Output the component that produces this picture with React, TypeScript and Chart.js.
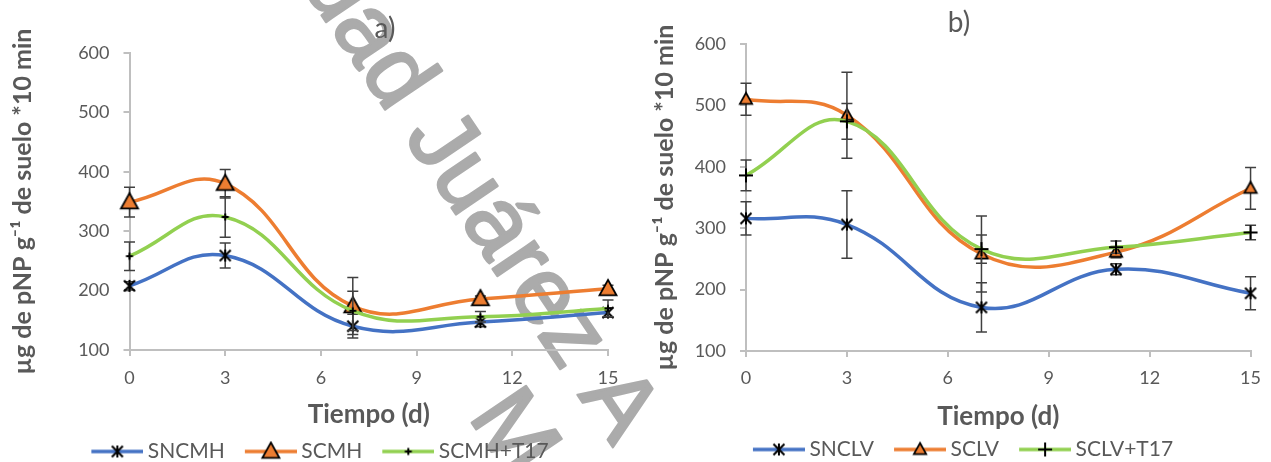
import React, { useEffect, useRef } from 'react';
import { Chart, registerables } from 'chart.js';

Chart.register(...registerables);

// ---------- data ----------
const days = [0, 3, 7, 11, 15];
const xTickValues = [0, 3, 6, 9, 12, 15];
const yTickValues = [100, 200, 300, 400, 500, 600];

const namesA = ['SNCMH', 'SCMH', 'SCMH+T17'];
const sncmh = [208, 259, 140, 147, 163];
const sncmhErr = [7, 21, 20, 8, 8];
const scmh = [349, 380, 174, 186, 203];
const scmhErr = [25, 24, 48, 5, 6];
const scmhT17 = [258, 324, 166, 156, 170];
const scmhT17Err = [24, 34, 33, 9, 14];

const namesB = ['SNCLV', 'SCLV', 'SCLV+T17'];
const snclv = [316, 306, 171, 233, 194];
const snclvErr = [27, 55, 40, 9, 27];
const sclv = [510, 484, 258, 261, 365];
const sclvErr = [26, 70, 62, 9, 34];
const sclvT17 = [386, 474, 266, 269, 293];
const sclvT17Err = [25, 29, 23, 10, 12];

const yTitle = 'µg de pNP g⁻¹ de suelo *10 min';
const xTitle = 'Tiempo (d)';
const titleA = 'a)';
const titleB = 'b)';
const watermarkLine1 = 'Universidad Juárez A';
const watermarkLine2 = 'México';

// ---------- styles ----------
const BLUE = '#4472C4';
const ORANGE = '#ED7D31';
const GREEN = '#92D050';
const TEXT = '#595959';
const AXIS = '#BFBFBF';
const FONT = 'Lato, "Open Sans", sans-serif';

type Kind = 'star' | 'triangle' | 'plus';

function drawMarker(ctx: CanvasRenderingContext2D, kind: Kind, r: number, cx: number, cy: number) {
  ctx.save();
  ctx.translate(cx, cy);
  ctx.strokeStyle = '#000';
  if (kind === 'star') {
    ctx.lineWidth = 2;
    ctx.beginPath();
    ctx.moveTo(-r, -r); ctx.lineTo(r, r);
    ctx.moveTo(r, -r); ctx.lineTo(-r, r);
    ctx.moveTo(0, -r * 1.1); ctx.lineTo(0, r * 1.1);
    ctx.stroke();
  } else if (kind === 'triangle') {
    ctx.fillStyle = ORANGE;
    ctx.lineWidth = 1.75;
    ctx.lineJoin = 'miter';
    ctx.beginPath();
    ctx.moveTo(0, -r);
    ctx.lineTo(r * 0.95, r * 0.72);
    ctx.lineTo(-r * 0.95, r * 0.72);
    ctx.closePath();
    ctx.fill();
    ctx.stroke();
  } else {
    ctx.lineWidth = 2;
    ctx.beginPath();
    ctx.moveTo(-r, 0); ctx.lineTo(r, 0);
    ctx.moveTo(0, -r); ctx.lineTo(0, r);
    ctx.stroke();
  }
  ctx.restore();
}

function markerCanvas(kind: Kind, r: number) {
  const s = 2 * Math.ceil(r + 3);
  const c = document.createElement('canvas');
  c.width = s; c.height = s;
  drawMarker(c.getContext('2d')!, kind, r, s / 2, s / 2);
  return c;
}

const LEG_BOX = 66;
const LEG_IMG = 78;
const LEG_LINE = 52;

function legendCanvas(kind: Kind, r: number, color: string) {
  const h = 2 * Math.ceil(r + 3);
  const c = document.createElement('canvas');
  c.width = LEG_IMG; c.height = h;
  const ctx = c.getContext('2d')!;
  ctx.strokeStyle = color;
  ctx.lineWidth = 3.5;
  ctx.beginPath();
  ctx.moveTo(LEG_IMG - LEG_LINE, h / 2);
  ctx.lineTo(LEG_IMG, h / 2);
  ctx.stroke();
  drawMarker(ctx, kind, r, LEG_IMG - LEG_LINE / 2, h / 2);
  return c;
}

const errorBarPlugin = {
  id: 'errorBars',
  beforeDatasetDraw(chart: any, args: any) {
    const ds = chart.data.datasets[args.index];
    const errs: number[] | undefined = ds.errors;
    if (!errs) return;
    const ys = chart.scales.y;
    const ctx = chart.ctx as CanvasRenderingContext2D;
    ctx.save();
    ctx.strokeStyle = '#404040';
    ctx.lineWidth = 1.5;
    args.meta.data.forEach((pt: any, i: number) => {
      const v = ds.data[i].y;
      const e = errs[i];
      const x = pt.x;
      const t = ys.getPixelForValue(v + e);
      const b = ys.getPixelForValue(v - e);
      const cap = 5.5;
      ctx.beginPath();
      ctx.moveTo(x, t); ctx.lineTo(x, b);
      ctx.moveTo(x - cap, t); ctx.lineTo(x + cap, t);
      ctx.moveTo(x - cap, b); ctx.lineTo(x + cap, b);
      ctx.stroke();
    });
    ctx.restore();
  },
};

const panelTitlePlugin = {
  id: 'panelTitle',
  afterDraw(chart: any, _args: any, opts: any) {
    if (!opts || !opts.text) return;
    const ctx = chart.ctx as CanvasRenderingContext2D;
    ctx.save();
    ctx.font = `28px ${FONT}`;
    ctx.fillStyle = TEXT;
    ctx.textAlign = 'center';
    ctx.textBaseline = 'middle';
    ctx.fillText(opts.text, opts.x, opts.y);
    ctx.restore();
  },
};

interface PanelSpec {
  names: string[];
  values: number[][];
  errors: number[][];
  kinds: Kind[];
  radii: number[];
  title: string;
  titleX: number;
  titleY: number;
  left: number;
  width: number;
  height: number;
  padTop: number;
  padRight: number;
  yWidth: number;
  rightWidth: number;
  xHeight: number;
  yTitlePad: number;
  xTitlePadBottom: number;
  xTickPad: number;
}

const colors = [BLUE, ORANGE, GREEN];

const panelA: PanelSpec = {
  names: namesA,
  values: [sncmh, scmh, scmhT17],
  errors: [sncmhErr, scmhErr, scmhT17Err],
  kinds: ['star', 'triangle', 'plus'],
  radii: [5.5, 9, 3.5],
  title: titleA,
  titleX: 385,
  titleY: 29,
  left: 0,
  width: 640,
  height: 472,
  padTop: 53,
  padRight: 20,
  yWidth: 129.5,
  rightWidth: 12,
  xHeight: 91,
  yTitlePad: 8,
  xTitlePadBottom: 11,
  xTickPad: 11,
};

const panelB: PanelSpec = {
  names: namesB,
  values: [snclv, sclv, sclvT17],
  errors: [snclvErr, sclvErr, sclvT17Err],
  kinds: ['star', 'triangle', 'plus'],
  radii: [5.5, 6.5, 7],
  title: titleB,
  titleX: 319,
  titleY: 23,
  left: 640,
  width: 631,
  height: 470,
  padTop: 44,
  padRight: 5,
  yWidth: 106,
  rightWidth: 14,
  xHeight: 88,
  yTitlePad: 10,
  xTitlePadBottom: 7,
  xTickPad: 10,
};

function buildConfig(spec: PanelSpec): any {
  const legendImgs = spec.kinds.map((k, i) => legendCanvas(k, spec.radii[i], colors[i]));
  const datasets = spec.names.map((name, i) => ({
    label: name,
    data: days.map((d, j) => ({ x: d, y: spec.values[i][j] })),
    errors: spec.errors[i],
    borderColor: colors[i],
    backgroundColor: colors[i],
    borderWidth: 3.5,
    tension: 0.42,
    pointStyle: markerCanvas(spec.kinds[i], spec.radii[i]),
    pointRadius: 5,
    pointHoverRadius: 5,
    clip: false,
    order: 2 - i,
  }));
  const tickFont = { family: FONT, size: 18 };
  return {
    type: 'line',
    data: { datasets },
    plugins: [errorBarPlugin, panelTitlePlugin],
    options: {
      responsive: false,
      animation: false,
      devicePixelRatio: 1,
      layout: { padding: { left: 0, right: spec.padRight, top: spec.padTop, bottom: 0 } },
      plugins: {
        tooltip: { enabled: false },
        title: { display: false },
        panelTitle: { text: spec.title, x: spec.titleX, y: spec.titleY },
        legend: {
          display: true,
          position: 'bottom',
          align: 'center',
          labels: {
            usePointStyle: true,
            pointStyleWidth: LEG_BOX,
            padding: 0,
            color: TEXT,
            font: { family: FONT, size: 21 },
            generateLabels: (chart: any) =>
              chart.data.datasets.map((ds: any, i: number) => ({
                text: ds.label,
                pointStyle: legendImgs[i],
                fillStyle: ds.borderColor,
                strokeStyle: ds.borderColor,
                lineWidth: 0,
                hidden: false,
                datasetIndex: i,
                fontColor: TEXT,
              })),
          },
        },
      },
      scales: {
        x: {
          type: 'linear',
          min: xTickValues[0],
          max: xTickValues[xTickValues.length - 1],
          afterBuildTicks: (s: any) => { s.ticks = xTickValues.map((v) => ({ value: v })); },
          ticks: { color: TEXT, font: tickFont, padding: spec.xTickPad, maxRotation: 0, autoSkip: false },
          grid: { display: true, drawOnChartArea: false, drawTicks: true, tickLength: 6, color: AXIS, lineWidth: 2 },
          border: { display: true, color: AXIS, width: 2 },
          title: { display: true, text: xTitle, color: TEXT, font: { family: FONT, size: 26, weight: 'bold' }, padding: { top: 0, bottom: spec.xTitlePadBottom } },
          afterFit: (s: any) => { s.height = spec.xHeight; },
        },
        y: {
          type: 'linear',
          position: 'left',
          min: yTickValues[0],
          max: yTickValues[yTickValues.length - 1],
          afterBuildTicks: (s: any) => { s.ticks = yTickValues.map((v) => ({ value: v })); },
          ticks: { color: TEXT, font: tickFont, padding: 14 },
          grid: { display: true, drawOnChartArea: false, drawTicks: true, tickLength: 6, color: AXIS, lineWidth: 2 },
          border: { display: true, color: AXIS, width: 2 },
          title: { display: true, text: yTitle, color: TEXT, font: { family: FONT, size: 25, weight: 'bold' }, padding: { top: spec.yTitlePad, bottom: 0 } },
          afterFit: (s: any) => { s.width = spec.yWidth; },
        },
        yr: {
          type: 'linear',
          position: 'right',
          display: true,
          grid: { display: false },
          border: { display: false },
          ticks: { display: false },
          afterFit: (s: any) => { s.width = spec.rightWidth; },
        },
      },
    },
  };
}

function fontsReady(): Promise<unknown> {
  const f = (document as any).fonts;
  if (!f || !f.load) return Promise.resolve();
  return Promise.all([
    f.load(`18px Lato`),
    f.load(`21px Lato`),
    f.load(`bold 25px Lato`),
    f.load(`28px Lato`),
    f.load(`95px "Liberation Sans"`),
  ]).catch(() => undefined);
}

function Panel({ spec }: { spec: PanelSpec }) {
  const ref = useRef<HTMLCanvasElement>(null);
  useEffect(() => {
    let chart: Chart | null = null;
    let cancelled = false;
    fontsReady().then(() => {
      if (cancelled || !ref.current) return;
      chart = new Chart(ref.current, buildConfig(spec));
    });
    return () => {
      cancelled = true;
      if (chart) chart.destroy();
    };
  }, [spec]);
  return (
    <canvas
      ref={ref}
      width={spec.width}
      height={spec.height}
      style={{ position: 'absolute', left: spec.left, top: 0, width: spec.width, height: spec.height, zIndex: 1 }}
    />
  );
}

function Watermark() {
  const ref = useRef<HTMLCanvasElement>(null);
  useEffect(() => {
    let cancelled = false;
    fontsReady().then(() => {
      const c = ref.current;
      if (cancelled || !c) return;
      const ctx = c.getContext('2d')!;
      ctx.clearRect(0, 0, c.width, c.height);
      const size = 95;
      const ang = (56 * Math.PI) / 180;
      ctx.fillStyle = '#ABABAB';
      ctx.strokeStyle = '#ABABAB';
      ctx.lineWidth = 2.5;
      ctx.lineJoin = 'round';
      ctx.font = `${size}px "Liberation Sans", Arial, sans-serif`;
      ctx.textBaseline = 'alphabetic';
      ctx.save();
      ctx.translate(445, 137);
      ctx.rotate(ang);
      const pre = ctx.measureText('Universidad ').width;
      const wJ = ctx.measureText('J').width;
      ctx.fillText(watermarkLine1, -(pre + wJ / 2), size * 0.36);
      ctx.strokeText(watermarkLine1, -(pre + wJ / 2), size * 0.36);
      ctx.restore();
      ctx.save();
      ctx.translate(518, 430);
      ctx.rotate(ang);
      const wM = ctx.measureText('M').width;
      ctx.fillText(watermarkLine2, -wM / 2, size * 0.36);
      ctx.strokeText(watermarkLine2, -wM / 2, size * 0.36);
      ctx.restore();
    });
    return () => { cancelled = true; };
  }, []);
  return (
    <canvas ref={ref} width={1271} height={462}
      style={{ position: 'absolute', left: 0, top: 0, width: 1271, height: 462, zIndex: 0 }} />
  );
}

export default function App() {
  return (
    <div style={{ position: 'fixed', left: 0, top: 0, width: 1271, height: 462, overflow: 'hidden', background: '#ffffff' }}>
      <Watermark />
      <Panel spec={panelA} />
      <Panel spec={panelB} />
    </div>
  );
}
